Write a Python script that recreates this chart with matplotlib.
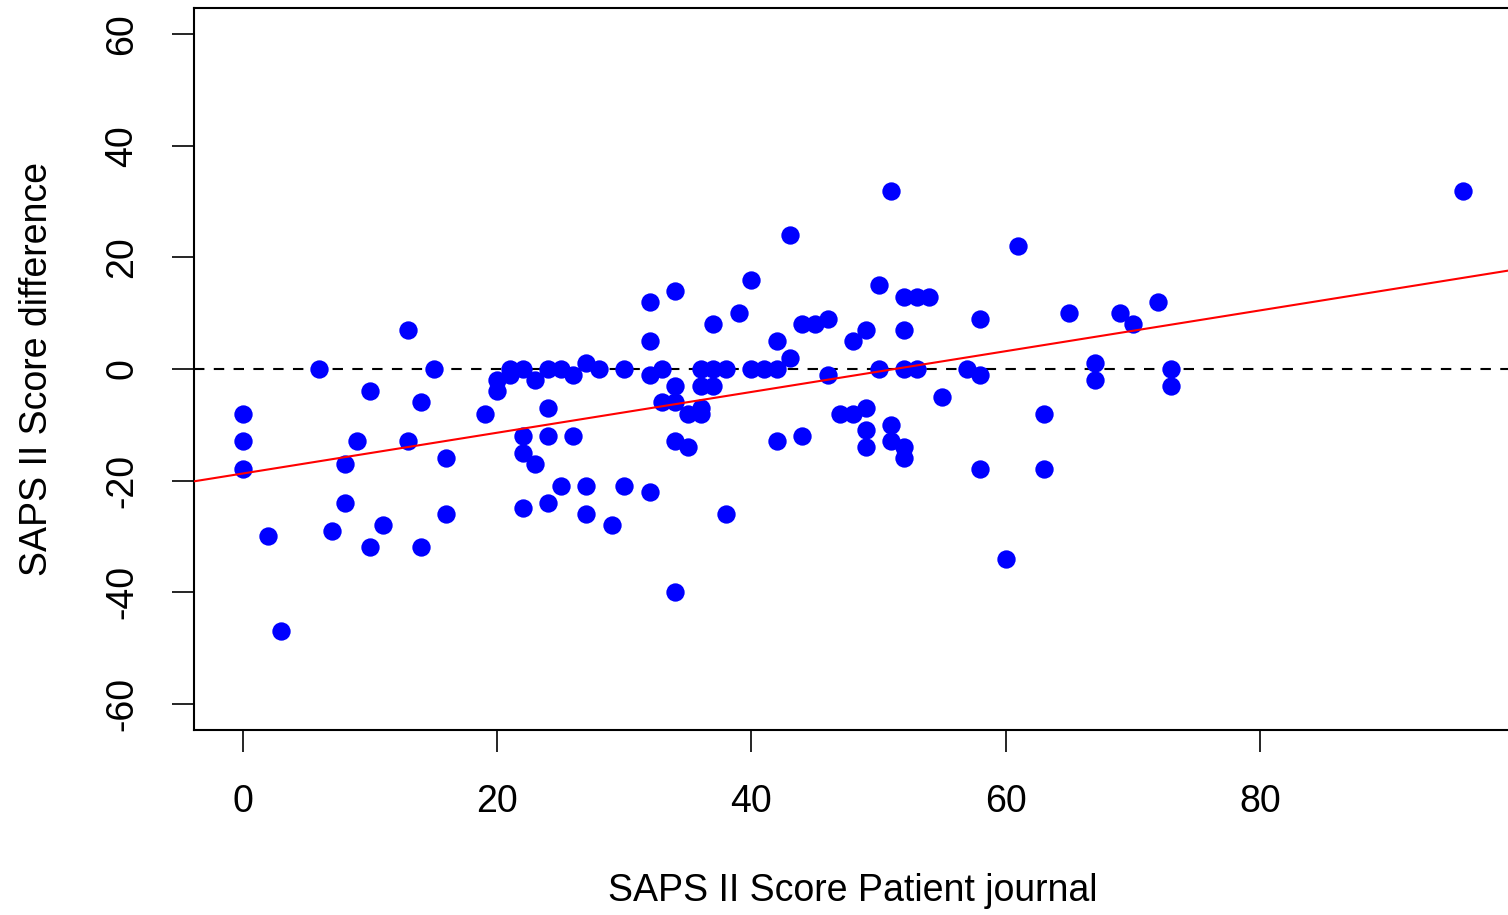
#coding:utf-8

# SAPS II score difference vs. patient journal score, with fitted line

import numpy as np
from matplotlib import pyplot as plt

plt.rcParams['font.family'] = ['Liberation Sans', 'DejaVu Sans']
plt.rcParams['axes.unicode_minus'] = False

# SAPS II score from patient journal (x) and score difference (y)
saps_journal = [0, 0, 0, 2, 3, 6, 7, 8, 8, 9, 10, 10, 11,
                13, 13, 14, 14, 15, 16, 16,
                19, 20, 20, 21, 21, 22, 22, 22, 22, 23, 23,
                24, 24, 24, 24, 25, 25, 26, 26, 27, 27, 27, 28, 29,
                30, 30, 32, 32, 32, 32, 33, 33, 34, 34, 34, 34, 34,
                35, 35, 36, 36, 36, 36, 37, 37, 37, 38, 38, 39, 40, 40, 41, 42, 42, 42,
                43, 43, 44, 44, 45, 46, 46, 47, 48, 48, 49, 49, 49, 49,
                50, 50, 51, 51, 51, 52, 52, 52, 52, 52, 53, 53, 54, 55, 57, 58, 58, 58,
                60, 61, 63, 63, 65, 67, 67, 69, 70, 72, 73, 73, 96]
saps_diff = [-8, -13, -18, -30, -47, 0, -29, -17, -24, -13, -4, -32, -28,
             7, -13, -6, -32, 0, -16, -26,
             -8, -2, -4, 0, -1, 0, -12, -15, -25, -2, -17,
             0, -7, -12, -24, 0, -21, -1, -12, 1, -21, -26, 0, -28,
             0, -21, 12, 5, -1, -22, 0, -6, 14, -3, -6, -13, -40,
             -8, -14, 0, -3, -7, -8, 8, 0, -3, 0, -26, 10, 16, 0, 0, 5, 0, -13,
             24, 2, 8, -12, 8, 9, -1, -8, 5, -8, 7, -7, -11, -14,
             15, 0, 32, -10, -13, 13, 7, 0, -14, -16, 13, 0, 13, -5, 0, 9, -1, -18,
             -34, 22, -8, -18, 10, 1, -2, 10, 8, 12, 0, -3, 32]

xticks = [0, 20, 40, 60, 80]
yticks = [-60, -40, -20, 0, 20, 40, 60]

x = np.array(saps_journal, dtype=float)
y = np.array(saps_diff, dtype=float)
slope, intercept = np.polyfit(x, y, 1)

fig = plt.figure(figsize=(15.08, 9.15), dpi=100)
ax = fig.add_axes([194.2 / 1508, 1 - 730.3 / 915, 1317.8 / 1508, 722.6 / 915])

ax.plot(x, y, 'o', color='#0000ff', markersize=13.2, markeredgewidth=0, zorder=3)
ax.axhline(0, color='black', lw=1.5, linestyle=(0, (5, 4.5)), zorder=2)

xl = np.array([-3.84, 99.84])
ax.plot(xl, intercept + slope * xl, color='red', lw=1.5, zorder=4)

ax.set_xlim(-3.84, 99.84)
ax.set_ylim(-64.8, 64.8)
ax.set_xticks(xticks)
ax.set_yticks(yticks)
ax.tick_params(axis='both', length=16, width=1.2, labelsize=27, pad=23)
for lab in ax.get_yticklabels():
    lab.set_rotation(90)
    lab.set_va('center')

for s in ax.spines.values():
    s.set_linewidth(1.5)

ax.set_xlabel('SAPS II Score Patient journal', fontsize=27)
ax.xaxis.set_label_coords(0.5, -0.223)
ax.xaxis.label.set_va('center')
ax.set_ylabel('SAPS II Score difference', fontsize=27)
ax.yaxis.set_label_coords(-0.1193, 0.5)
ax.yaxis.label.set_va('center')

fig.savefig('out.png', dpi=100)
